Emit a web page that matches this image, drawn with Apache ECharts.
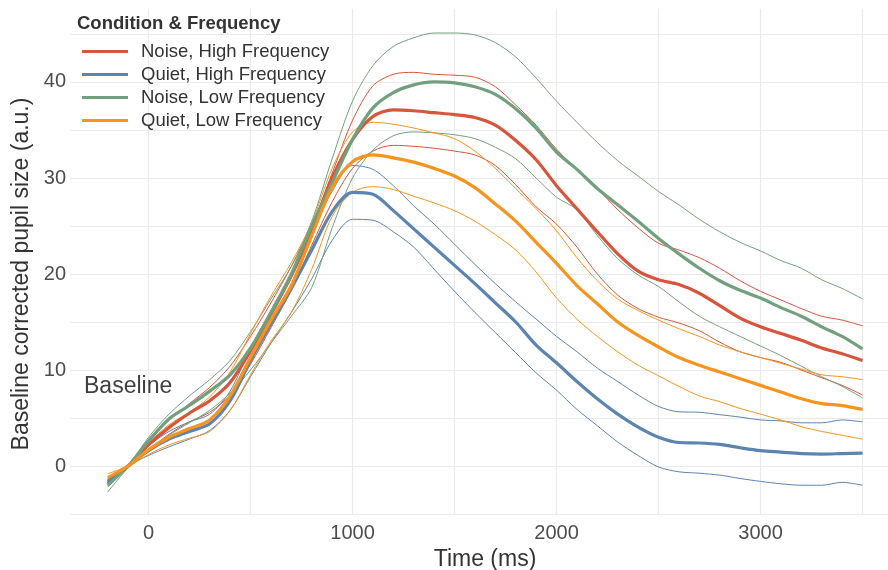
<!DOCTYPE html>
<html>
<head>
<meta charset="utf-8">
<script src="https://cdn.jsdelivr.net/npm/echarts@6/dist/echarts.min.js"></script>
<style>
  html, body { margin: 0; padding: 0; background: #ffffff; }
  #chart { width: 888px; height: 570px; }
</style>
</head>
<body>
<div id="chart"></div>
<script>
// ---- Data ----
const timeMs = [-200,-100,0,100,200,300,400,500,600,700,800,900,1000,1100,1200,1300,1400,1500,1600,1700,1800,1900,2000,2100,2200,2300,2400,2500,2600,2700,2800,2900,3000,3100,3200,3300,3400,3500];

const conditionNames = ['Noise, High Frequency', 'Quiet, High Frequency', 'Noise, Low Frequency', 'Quiet, Low Frequency'];

// Noise, High Frequency
const noiseHighMean  = [-1.8,0,2.2,4.0,5.5,6.8,8.7,12.0,15.8,19.8,24.5,30.0,34.0,36.4,37.1,37.0,36.8,36.6,36.3,35.5,33.9,31.9,29.2,26.8,24.4,22.1,20.3,19.4,18.9,18.0,16.7,15.4,14.5,13.8,13.1,12.3,11.7,11.0];
const noiseHighUpper = [-1.3,0.1,2.8,4.8,6.5,8.2,10.4,13.5,17.0,20.8,25.0,30.5,36.0,39.6,40.8,41.0,40.8,40.7,40.5,39.5,37.6,35.5,33.0,30.9,28.9,26.7,24.8,23.2,22.5,21.7,20.6,19.3,18.2,17.3,16.4,15.6,15.2,14.6];
const noiseHighLower = [-2.2,-0.1,1.7,3.3,4.6,5.6,7.4,10.6,14.4,18.3,23.0,27.5,31.0,32.8,33.4,33.3,33.1,32.8,32.4,31.3,29.3,27.0,25.2,22.8,20.0,17.8,16.4,15.5,14.9,14.1,12.9,11.9,11.3,10.8,10.0,9.2,8.4,7.4];

// Quiet, High Frequency
const quietHighMean  = [-1.6,0,1.6,2.8,3.6,4.4,6.8,11.0,14.8,18.5,22.5,26.5,28.5,28.3,26.6,24.7,22.8,20.9,19.0,17.0,15.0,12.6,10.75,8.8,7.0,5.4,4.05,3.0,2.45,2.4,2.25,1.9,1.6,1.45,1.3,1.25,1.3,1.35];
const quietHighUpper = [-1.2,0.1,2.1,3.6,4.6,5.4,7.8,12.3,16.2,20.0,24.3,28.6,31.3,30.9,29.2,27.1,25.2,23.1,21.0,19.0,17.1,15.3,13.5,11.9,10.2,8.8,7.4,6.2,5.65,5.6,5.35,5.1,4.8,4.7,4.5,4.5,4.8,4.6];
const quietHighLower = [-2.0,0,1.1,2.0,2.8,3.7,5.8,9.3,12.8,16.0,19.5,23.5,25.7,25.6,24.4,22.8,20.5,18.2,16.0,13.9,11.8,9.7,7.9,5.9,4.2,2.5,1.1,-0.1,-0.6,-0.75,-0.95,-1.3,-1.6,-1.85,-2.0,-2.0,-1.7,-2.0];

// Noise, Low Frequency
const noiseLowMean  = [-2.0,0,2.6,4.9,6.3,7.8,9.5,12.3,16.0,20.0,25.0,29.5,34.0,37.3,38.9,39.7,40.0,39.9,39.5,38.7,37.2,35.2,32.7,30.9,28.9,27.2,25.5,23.7,22.1,20.6,19.3,18.3,17.5,16.5,15.6,14.5,13.5,12.2];
const noiseLowUpper = [-1.4,0.1,3.0,5.4,7.3,9.0,11.0,14.0,17.4,20.8,25.5,32.0,38.0,41.7,43.7,44.6,45.1,45.1,44.9,44.1,42.6,40.4,38.0,35.8,33.7,31.8,30.2,28.6,27.2,25.7,24.4,23.3,22.4,21.4,20.6,19.4,18.5,17.4];
const noiseLowLower = [-2.7,-0.2,1.6,3.2,4.5,5.8,7.6,10.0,12.8,15.6,18.6,24.8,30.0,32.9,34.4,34.8,34.7,34.5,34.1,33.2,32.0,30.0,28.0,26.7,24.0,21.6,19.9,18.7,17.1,15.6,14.5,13.5,12.5,11.5,10.4,9.3,8.3,7.1];

// Quiet, Low Frequency
const quietLowMean  = [-1.2,0,1.7,3.0,3.9,4.8,7.3,11.3,15.2,18.8,24.0,29.0,31.7,32.4,32.1,31.65,31.0,30.2,29.0,27.3,25.5,23.3,21.1,18.8,16.9,15.0,13.6,12.4,11.3,10.5,9.8,9.1,8.4,7.7,7.0,6.5,6.3,5.9];
const quietLowUpper = [-0.8,0.1,2.4,4.3,5.6,7.2,9.8,13.8,17.7,21.2,25.3,31.0,34.8,35.8,35.6,35.2,34.7,34.1,32.8,31.0,28.9,26.8,24.5,21.7,19.3,17.4,16.2,15.2,14.3,13.5,12.6,11.9,11.3,10.7,10.1,9.5,9.3,9.0];
const quietLowLower = [-1.5,-0.1,1.2,2.2,2.9,3.6,5.8,9.5,13.0,16.0,20.5,26.0,28.5,29.1,28.8,28.1,27.4,26.6,25.5,24.1,22.5,20.2,17.5,15.3,13.5,11.9,10.5,9.4,8.3,7.3,6.7,6.0,5.4,4.8,4.1,3.6,3.2,2.8];

const xGridValues = [0,500,1000,1500,2000,2500,3000,3500];
const xTickLabels = [0,1000,2000,3000];
const yGridValues = [-5,0,5,10,15,20,25,30,35,40,45];
const yTickLabels = [0,10,20,30,40];

const annotationText = 'Baseline';
const annotationPoint = [-100, 8.3];

// ---- Styling ----
const colors = ['#d9543c', '#5b84b0', '#72a07e', '#f7941e'];
const FONT = 'Liberation Sans, Arial, Helvetica, sans-serif';

const groups = [
  [noiseHighMean, noiseHighUpper, noiseHighLower],
  [quietHighMean, quietHighUpper, quietHighLower],
  [noiseLowMean, noiseLowUpper, noiseLowLower],
  [quietLowMean, quietLowUpper, quietLowLower]
];

function pairs(vals) { return timeMs.map((t, i) => [t, vals[i]]); }

const series = [];
// thin bound lines first
groups.forEach((g, gi) => {
  [g[1], g[2]].forEach((vals, k) => {
    series.push({
      type: 'line',
      name: conditionNames[gi] + (k === 0 ? ' upper' : ' lower'),
      data: pairs(vals),
      showSymbol: false, symbol: 'none', smooth: 0.3,
      lineStyle: { width: 1.0, color: colors[gi] },
      itemStyle: { color: colors[gi] },
      silent: true, z: 2
    });
  });
});
// thick mean lines
groups.forEach((g, gi) => {
  const s = {
    type: 'line',
    name: conditionNames[gi],
    data: pairs(g[0]),
    showSymbol: false, symbol: 'none', smooth: 0.3,
    lineStyle: { width: 3.2, color: colors[gi] },
    itemStyle: { color: colors[gi] },
    silent: true, z: 3
  };
  if (gi === 0) {
    s.markPoint = {
      symbol: 'circle', symbolSize: 0, silent: true,
      data: [{ coord: annotationPoint, value: annotationText }],
      label: { show: true, position: 'inside', formatter: annotationText,
               fontSize: 23, color: '#404040', fontFamily: FONT }
    };
  }
  series.push(s);
});

const chart = echarts.init(document.getElementById('chart'), null, { renderer: 'canvas' });
chart.setOption({
  animation: false,
  backgroundColor: '#ffffff',
  title: {
    text: 'Condition & Frequency', left: 77, top: 14, padding: 0,
    textStyle: { fontSize: 18.5, fontWeight: 'bold', color: '#333333', fontFamily: FONT }
  },
  legend: {
    data: conditionNames, orient: 'vertical', left: 82, top: 42, padding: 0,
    itemWidth: 46, itemHeight: 3, itemGap: 4, icon: 'rect',
    textStyle: { fontSize: 18.5, color: '#333333', fontFamily: FONT, lineHeight: 19, padding: [0, 0, 0, 8] },
    selectedMode: false
  },
  grid: { left: 70, right: 0, top: 9, bottom: 55, containLabel: false, outerBoundsMode: 'none' },
  xAxis: {
    type: 'value', min: -385, max: 3625,
    name: 'Time (ms)', nameLocation: 'middle', nameGap: 29,
    nameTextStyle: { fontSize: 23, color: '#333333', fontFamily: FONT, padding: [0, 0, 0, 12] },
    axisLine: { show: false },
    axisTick: { show: false, customValues: xGridValues },
    axisLabel: { customValues: xTickLabels, fontSize: 20, color: '#4d4d4d', margin: 8, fontFamily: FONT,
                 formatter: v => String(v) },
    splitLine: { show: true, lineStyle: { color: '#ebebeb', width: 1.2 } }
  },
  yAxis: {
    type: 'value', min: -5.1, max: 47.6,
    name: 'Baseline corrected pupil size (a.u.)', nameLocation: 'middle', nameGap: 27, nameRotate: 90,
    nameTextStyle: { fontSize: 23, color: '#333333', fontFamily: FONT, padding: [0, 24, 0, 0] },
    axisLine: { show: false },
    axisTick: { show: false, customValues: yGridValues },
    axisLabel: { customValues: yTickLabels, fontSize: 20, color: '#4d4d4d', margin: 4, fontFamily: FONT,
                 formatter: v => String(v) },
    splitLine: { show: true, lineStyle: { color: '#ebebeb', width: 1.2 } }
  },
  series: series
});
</script>
</body>
</html>
